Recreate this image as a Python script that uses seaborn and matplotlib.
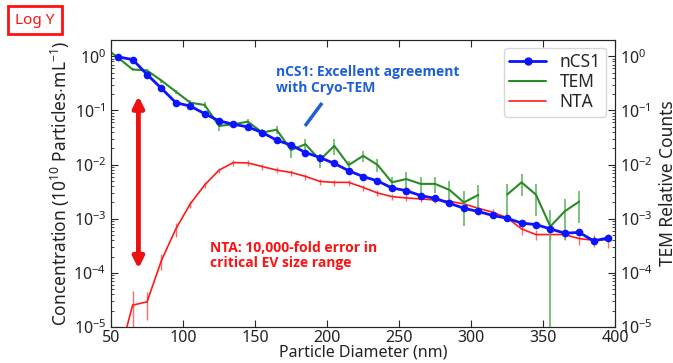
import numpy as np
import seaborn as sns
import matplotlib.pyplot as plt
from matplotlib.lines import Line2D

# particle diameter bins (nm)
diam = list(range(55, 400, 10))
tem_diam = list(range(45, 380, 10))

# nCS1 concentration (1e10 particles / mL)
ncs1 = [0.97, 0.87, 0.46, 0.255, 0.139, 0.12, 0.087, 0.064, 0.0555, 0.0495,
        0.039, 0.0282, 0.0229, 0.0167, 0.0135, 0.0105, 0.0077, 0.0060, 0.0050, 0.0037,
        0.0033, 0.00267, 0.00238, 0.00193, 0.00156, 0.00136, 0.00115, 0.00102, 0.00083, 0.00078,
        0.00065, 0.00054, 0.00056, 0.00039, 0.00044]

# NTA concentration
nta = [2.5e-6, 2.54e-5, 2.92e-5, 1.7e-4, 6.5e-4, 1.88e-3, 4.2e-3, 7.9e-3, 0.0109, 0.0107,
       0.0092, 0.0079, 0.00716, 0.00604, 0.00489, 0.00469, 0.00469, 0.00379, 0.00299, 0.00256,
       0.00242, 0.00232, 0.00222, 0.0021, 0.00188, 0.00156, 0.00132, 0.00104, 0.00065, 0.00051,
       0.00051, 0.00051, 0.00043, 0.0004, 0.00041]
nta_rel_err = [0.5, 0.85, 0.53, 0.34, 0.3, 0.15, 0.12, 0.1, 0.13, 0.13,
               0.13, 0.13, 0.13, 0.13, 0.13, 0.13, 0.13, 0.13, 0.13, 0.13,
               0.13, 0.13, 0.13, 0.13, 0.13, 0.13, 0.13, 0.13, 0.23, 0.2,
               0.2, 0.2, 0.25, 0.25, 0.3]

# TEM relative counts
tem = [1.51, 0.93, 0.57, 0.546, 0.355, 0.222, 0.139, 0.126, 0.0516, 0.0555,
       0.062, 0.039, 0.044, 0.0185, 0.0238, 0.0121, 0.0222, 0.0098, 0.0145, 0.0099,
       0.0047, 0.0054, 0.0044, 0.0044, 0.0034, 0.0020, 0.00275, np.nan, 0.00279, 0.0047,
       0.00279, 0.00072, 0.00137, 0.00207]
tem_rel_err = [0.1, 0.08, 0.08, 0.08, 0.08, 0.08, 0.1, 0.12, 0.18, 0.1,
               0.1, 0.18, 0.15, 0.29, 0.24, 0.29, 0.33, 0.2, 0.24, 0.27,
               0.24, 0.33, 0.33, 0.33, 0.48, 0.64, 0.55, np.nan, 0.59, 0.44,
               0.59, 1.02, 0.71, 0.59]

sns.set_style("ticks")
plt.rcParams['font.family'] = ['Noto Sans', 'DejaVu Sans']
plt.rcParams['mathtext.fontset'] = 'custom'
plt.rcParams['mathtext.rm'] = 'Noto Sans'
plt.rcParams['mathtext.it'] = 'Noto Sans:italic'
plt.rcParams['mathtext.bf'] = 'Noto Sans:bold'

fig = plt.figure(figsize=(6.73, 3.63), dpi=100)
ax = fig.add_axes([0.165, 0.099, 0.749, 0.791])

red = '#ff1a1a'
green = '#2a8a2a'
blue = '#0a14ff'
fs = 11.5

nta_arr = np.array(nta)
tem_arr = np.array(tem)
ax.errorbar(diam, nta_arr, yerr=nta_arr * np.array(nta_rel_err), color=red, lw=1.2,
            ecolor='#ff6a6a', elinewidth=1.0, capsize=0, zorder=2)
ax.errorbar(tem_diam, tem_arr, yerr=tem_arr * np.array(tem_rel_err), color=green, lw=1.5,
            ecolor='#66b866', elinewidth=1.2, capsize=0, zorder=3)
sns.lineplot(x=diam, y=ncs1, ax=ax, color=blue, lw=2.0, marker='o', markersize=5.5,
             markeredgewidth=0, zorder=4)

ax.set_yscale('log')
ax.set_xlim(50, 400)
ax.set_ylim(1e-5, 2)
ax.set_xticks(range(50, 401, 50))
ax.tick_params(axis='both', which='both', direction='in', labelsize=fs, top=True,
               labelcolor='#222222')
ax.tick_params(which='major', length=5)
ax.tick_params(which='minor', length=2.5)
ax.tick_params(axis='x', pad=2)
ax.set_xlabel('Particle Diameter (nm)', fontsize=fs, labelpad=-1, color='#222222')
ax.set_ylabel(r'Concentration (10$^{10}$ Particles$\cdot$mL$^{-1}$)', fontsize=12.5,
              labelpad=1, color='#222222')
for s in ax.spines.values():
    s.set_color('#333333')

ax2 = ax.twinx()
ax2.set_yscale('log')
ax2.set_ylim(1e-5, 2)
ax2.tick_params(axis='y', which='both', direction='in', labelsize=fs, labelcolor='#222222')
ax2.tick_params(which='major', length=5)
ax2.tick_params(which='minor', length=2.5)
ax2.set_ylabel('TEM Relative Counts', fontsize=12.5, labelpad=4, color='#222222')

handles = [Line2D([], [], color=blue, lw=2.0, marker='o', markersize=5),
           Line2D([], [], color=green, lw=1.5),
           Line2D([], [], color=red, lw=1.2)]
leg = ax2.legend(handles, ['nCS1', 'TEM', 'NTA'], loc='upper right',
                 bbox_to_anchor=(0.982, 0.972), borderaxespad=0, fontsize=12.5,
                 frameon=True, fancybox=True, edgecolor='#cccccc', handlelength=2.1,
                 labelspacing=0.12, borderpad=0.3)

# annotations
ax.annotate('', xy=(69, 1.2e-4), xytext=(69, 0.184),
            arrowprops=dict(arrowstyle='<|-|>', lw=3.5, color='#ee1111',
                            mutation_scale=16, shrinkA=0, shrinkB=0))
ax.plot([184.7, 196.5], [0.0516, 0.137], color='#1f5fd6', lw=2.5, solid_capstyle='butt')
ax.text(164.6, 0.36, 'nCS1: Excellent agreement\nwith Cryo-TEM', color='#1f5fd6',
        fontsize=10, fontweight='bold', family=['Open Sans', 'DejaVu Sans'],
        va='center', ha='left', linespacing=1.2)
ax.text(118.7, 2.1e-4, 'NTA: 10,000-fold error in\ncritical EV size range', color='#ff1111',
        fontsize=10, fontweight='bold', family=['Open Sans', 'DejaVu Sans'],
        va='center', ha='left', linespacing=1.1)

fig.text(35 / 673, 1 - 20 / 363, 'Log Y', color='#ff1111', fontsize=11, ha='center', va='center',
         bbox=dict(boxstyle='square,pad=0.45', fc='white', ec='#ff1111', lw=2))

fig.savefig('out.png', dpi=100)
